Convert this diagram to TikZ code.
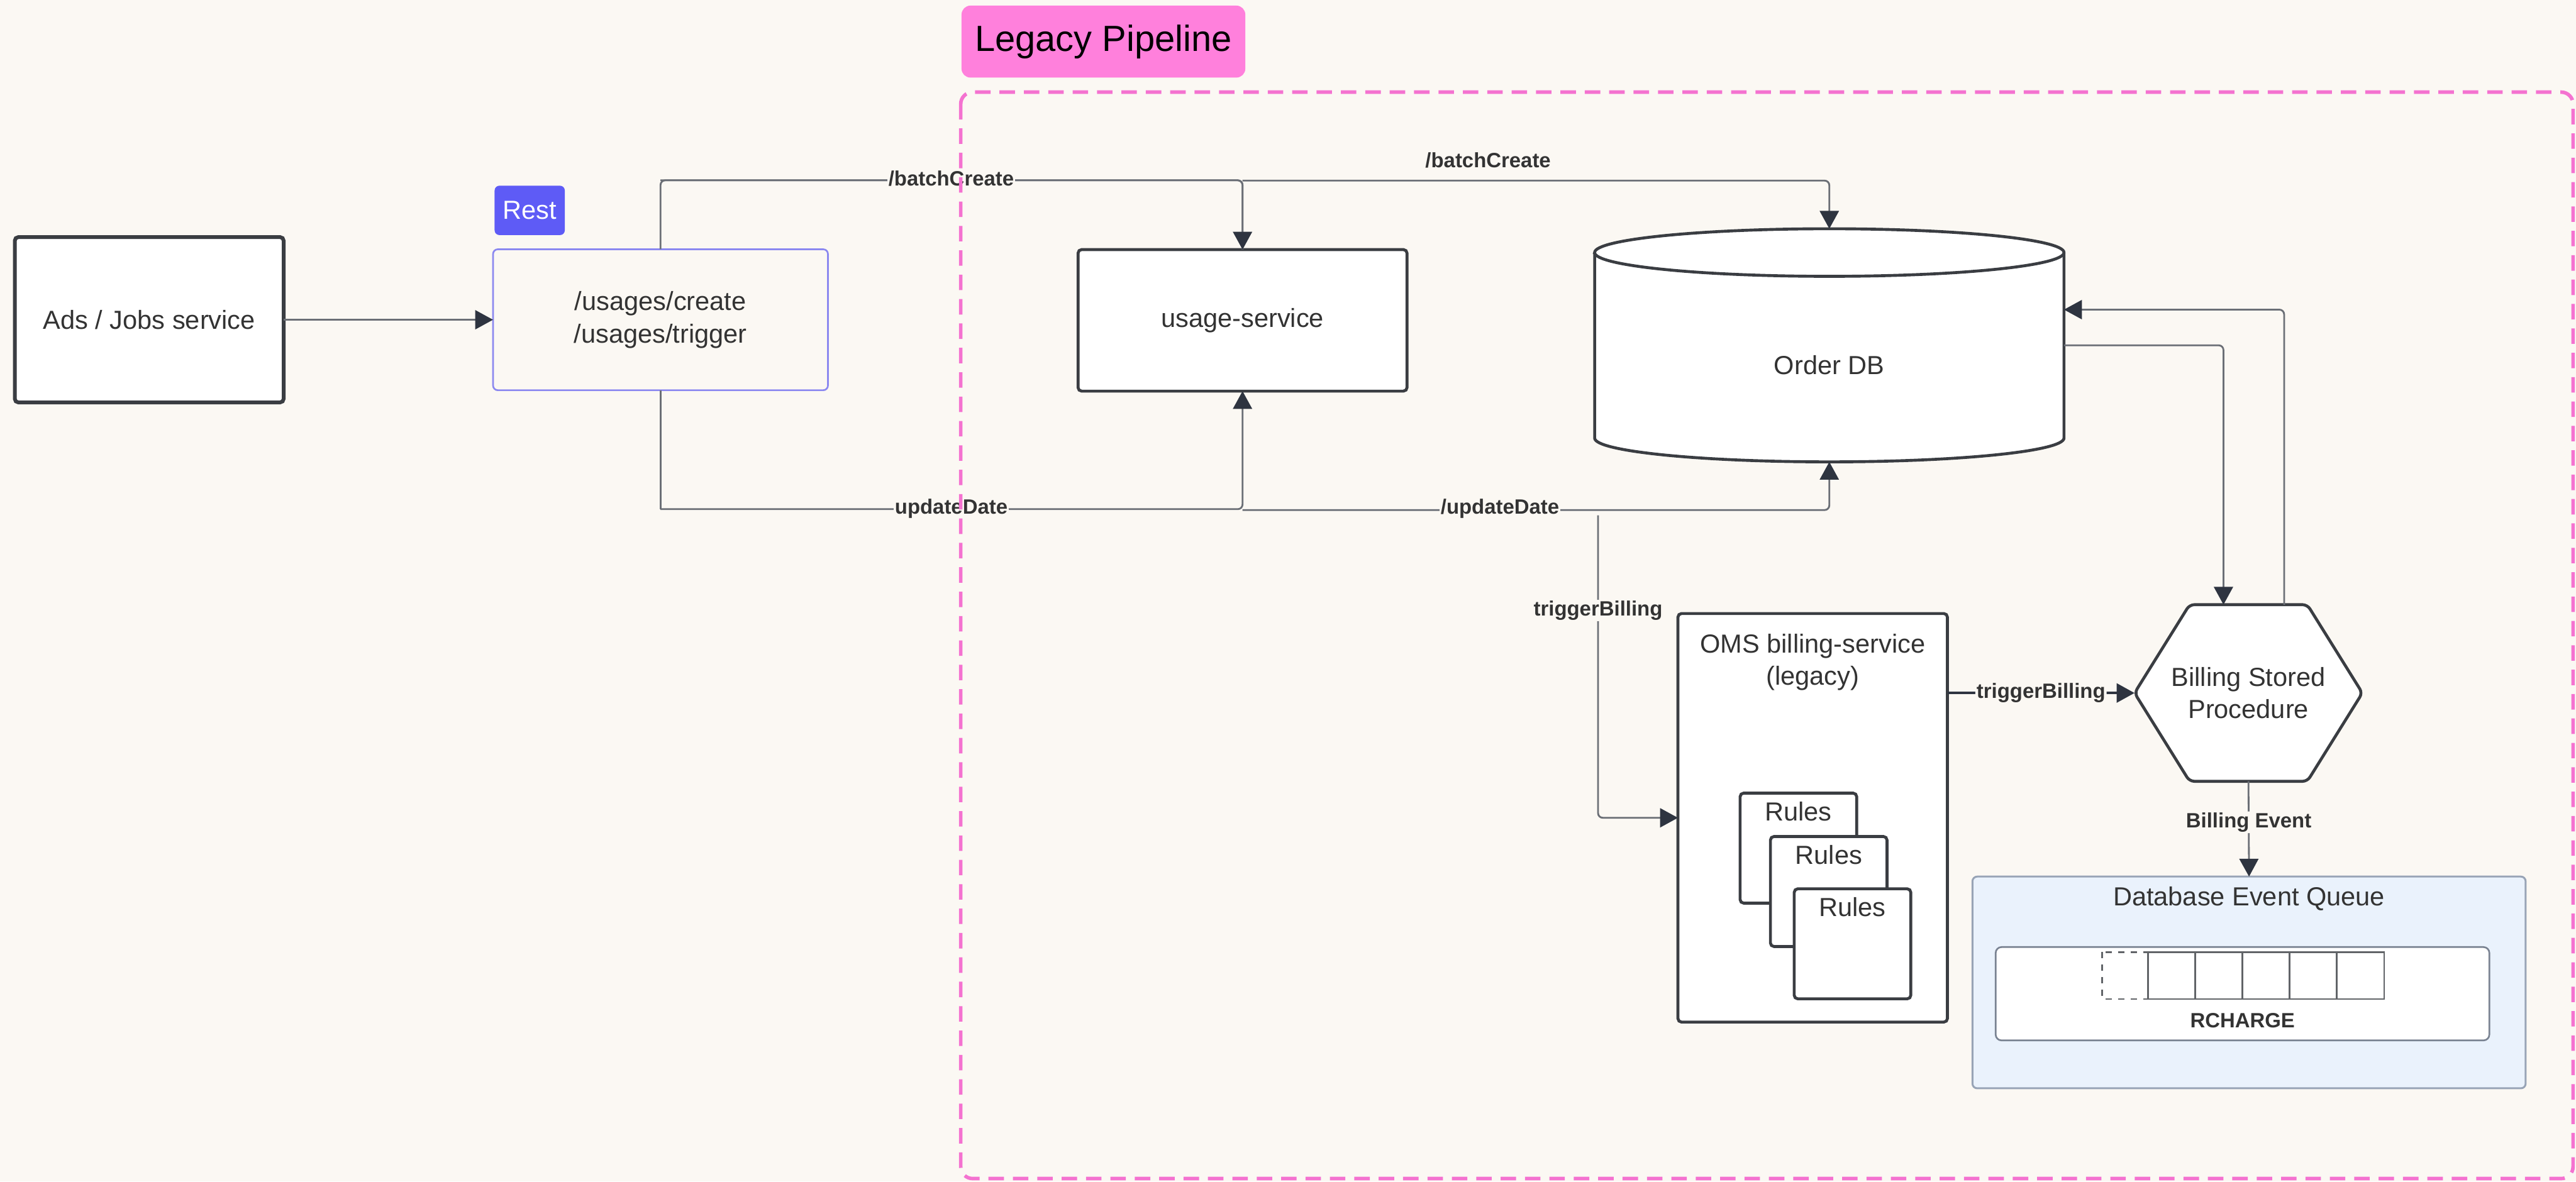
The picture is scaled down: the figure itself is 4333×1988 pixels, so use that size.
\documentclass[tikz,border=0pt]{standalone}
\usepackage{fontspec}
\setmainfont{Liberation Sans}
\usepackage{tikz}
\usepackage{xcolor}
\usetikzlibrary{arrows.meta,positioning}
\definecolor{bg}{HTML}{FBF8F3}
\definecolor{boxc}{HTML}{3A3D42}
\definecolor{linec}{HTML}{6B6F76}
\definecolor{tipc}{HTML}{2E3440}
\definecolor{textc}{HTML}{333333}
\definecolor{legacypink}{HTML}{FF80DC}
\definecolor{framepink}{HTML}{F472D0}
\definecolor{restblue}{HTML}{5E5BF6}
\definecolor{restline}{HTML}{8B88F0}
\definecolor{queuefill}{HTML}{EAF2FC}
\definecolor{queueline}{HTML}{98A4B6}
\begin{document}
\begin{tikzpicture}[x=0.01cm,y=-0.01cm,
	box/.style={draw=boxc,line width=1.4pt,fill=white,rounded corners=0.06cm,inner sep=0,outer sep=0},
	shapebox/.style={inner sep=0,outer sep=0},
	conn/.style={draw=linec,line width=0.85pt,rounded corners=0.08cm,-{Triangle[length=0.3cm,width=0.32cm,color=tipc]}},
	plain/.style={draw=linec,line width=0.85pt,rounded corners=0.08cm},
	txt/.style={font=\fontsize{12.5}{15.5}\selectfont,text=textc},
	lbl/.style={font=\fontsize{9.9}{12}\selectfont\bfseries,text=textc,fill=bg,inner sep=0.02cm}]
\fill[bg] (0,0) rectangle (4333,1988);
\useasboundingbox (0,0) rectangle (4333,1988);
\node[box,line width=1.8pt,minimum width=4.52cm,minimum height=2.78cm,txt] (ads) at (251,538) {Ads / Jobs service};
\node[fill=restblue,rounded corners=0.08cm,minimum width=1.18cm,minimum height=0.83cm,txt,text=white] (rest) at (891,354) {Rest};
\node[draw=restline,line width=0.8pt,fill=bg,rounded corners=0.08cm,minimum width=5.63cm,minimum height=2.37cm,inner sep=0,outer sep=0,txt,align=center] (usages) at (1111,538) {/usages/create\\/usages/trigger};
\node[box,minimum width=5.53cm,minimum height=2.38cm,txt] (usage) at (2090,539) {usage-service};
\node[shapebox,minimum width=7.89cm,minimum height=3.92cm] (orderdb) at (3077,581) {};
\draw[boxc,line width=1.4pt,fill=white] ([yshift=-0.4cm]orderdb.north west) -- ([yshift=0.4cm]orderdb.south west) arc (180:360:3.945cm and 0.4cm) -- ([yshift=-0.4cm]orderdb.north east) arc (0:180:3.945cm and 0.4cm) -- cycle;
\draw[boxc,line width=1.4pt] ([yshift=-0.4cm]orderdb.north west) arc (180:360:3.945cm and 0.4cm);
\node[txt] at ([yshift=-0.33cm]orderdb.center) {Order DB};
\node[box,minimum width=4.53cm,minimum height=6.87cm] (oms) at (3049,1376) {};
\node[txt,align=center] (omstitle) at ([yshift=-0.82cm]oms.north) {OMS billing-service\\(legacy)};
\foreach \i/\x/\y in {1/3025/1427,2/3076/1500,3/3116/1588}
	{
	\node[box,minimum width=1.96cm,minimum height=1.85cm] (rule\i) at (\x,\y) {};
	\node[txt] at ([yshift=-0.31cm]rule\i.north) {Rules};
	}
\node[shapebox,minimum width=3.83cm,minimum height=2.97cm] (proc) at (3782,1166) {};
\draw[boxc,line width=1.4pt,fill=white,rounded corners=0.08cm] (proc.west) -- ([xshift=-0.99cm]proc.north) -- ([xshift=0.99cm]proc.north) -- (proc.east) -- ([xshift=0.99cm]proc.south) -- ([xshift=-0.99cm]proc.south) -- cycle;
\node[txt,align=center] at (proc) {Billing Stored\\Procedure};
\node[draw=queueline,line width=0.9pt,fill=queuefill,rounded corners=0.08cm,minimum width=9.30cm,minimum height=3.56cm,inner sep=0,outer sep=0] (queue) at (3783,1653) {};
\node[txt] (queuetitle) at ([yshift=-0.37cm]queue.north) {Database Event Queue};
\node[draw=queueline!80!black,line width=0.8pt,fill=white,rounded corners=0.1cm,minimum width=8.30cm,minimum height=1.57cm,inner sep=0,outer sep=0] (evq) at (3772,1672) {};
\draw[boxc!80,line width=0.7pt,dashed] (3536,1602) rectangle (3613,1681);
\foreach \i in {0,...,4}
	{
	\draw[boxc!80,line width=0.7pt] (3613+79.4*\i,1602) rectangle ++(79.4,79);
	}
\node[lbl,fill=none] at (3772,1717) {RCHARGE};
\draw[conn] (ads) -- (usages);
\draw[plain] (usages.north) -- ([yshift=1.16cm]usages.north) -| (usage.north);
\draw[conn] ([yshift=1.16cm]usages.north) -| (usage.north);
\draw[conn] ([yshift=1.16cm]usage.north) -| (orderdb.north);
\draw[plain] (usages.south) -- ([yshift=-2.0cm]usages.south);
\draw[conn] ([yshift=-2.0cm]usages.south) -| (usage.south);
\draw[conn] ([yshift=-2.0cm]usage.south) -| (orderdb.south);
\node[lbl] at (1600,300) {/batchCreate};
\node[lbl,fill=none] at (2503,270) {/batchCreate};
\node[lbl] at (1600,856) {updateDate};
\node[lbl] at (2523,856) {/updateDate};
\coordinate (tbtop) at (2688,867);
\draw[conn] (tbtop) |- (oms.west);
\node[lbl] at (2688,1027) {triggerBilling};
\draw[conn,draw=tipc,line width=1.1pt] (oms.east |- proc.west) -- node[lbl] {triggerBilling} (proc.west);
\draw[conn] (orderdb.east) -| ([xshift=-0.42cm]proc.north);
\draw[conn] ([xshift=0.6cm]proc.north) |- ([yshift=0.6cm]orderdb.east);
\draw[conn] (proc.south) -- node[lbl,pos=0.43] {Billing Event} (queue.north);
\node[fill=legacypink,rounded corners=0.15cm,minimum width=4.77cm,minimum height=1.21cm,font=\fontsize{17.4}{20}\selectfont,text=black] (legacy) at (1856,70) {Legacy Pipeline};
\draw[framepink,line width=1.7pt,dash pattern=on 0.26cm off 0.15cm,rounded corners=0.2cm] (1616,155) rectangle (4328,1983);
\end{tikzpicture}
\end{document}
